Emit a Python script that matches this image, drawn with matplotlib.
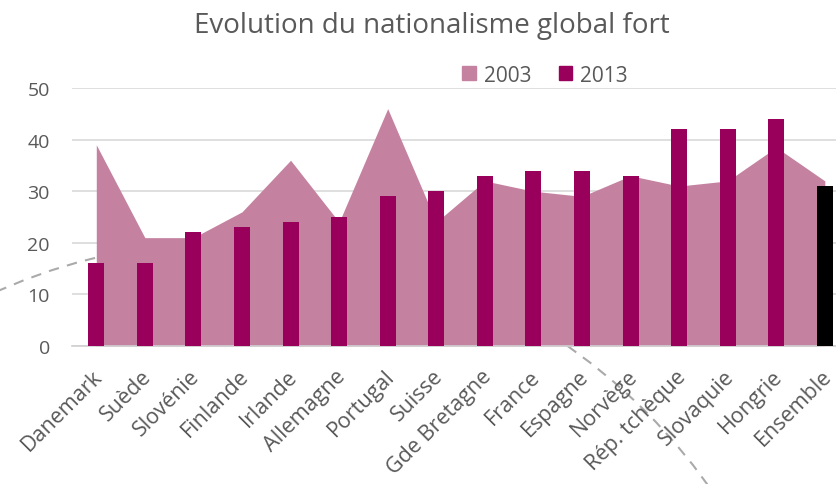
import matplotlib.pyplot as plt
import matplotlib.transforms as mtransforms
import numpy as np
from matplotlib.patches import Circle, Patch

# données
pays = ["Danemark", "Suède", "Slovénie", "Finlande", "Irlande", "Allemagne",
        "Portugal", "Suisse", "Gde Bretagne", "France", "Espagne", "Norvège",
        "Rép. tchèque", "Slovaquie", "Hongrie", "Ensemble"]
val_2003 = [39, 21, 21, 26, 36, 24, 46, 24, 32, 30, 29, 33, 31, 32, 38.5, 32]
val_2013 = [16, 16, 22, 23, 24, 25, 29, 30, 33, 34, 34, 33, 42, 42, 44, 31]
y_ticks = [0, 10, 20, 30, 40, 50]

c_2003 = '#C482A0'
c_2013 = '#99005C'
gris = '#595959'

plt.rcParams['font.family'] = ['Open Sans', 'DejaVu Sans']

fig = plt.figure(figsize=(8.36, 4.85), dpi=100)

# cercle décoratif en pointillés derrière le graphique
cercle = Circle((2.34, 4.85 - 8.24), 5.82, transform=fig.dpi_scale_trans,
                fill=False, edgecolor='#AAAAAA', linestyle=(0, (5, 4)),
                linewidth=1.5, zorder=0)
fig.patches.append(cercle)

ax = fig.add_axes([72 / 836, 1 - 347 / 485, 1 - 72 / 836, (347 - 89) / 485])
ax.set_facecolor('none')
ax.set_zorder(1)

x = np.arange(len(pays))
ax.fill_between(x, val_2003, color=c_2003, linewidth=0, zorder=2)
couleurs = [c_2013] * (len(pays) - 1) + ['black']
ax.bar(x, val_2013, width=0.33, color=couleurs, zorder=3)

ax.set_xlim(-0.5, 15.23)
ax.set_ylim(0, 50)
ax.set_yticks(y_ticks)
ax.grid(axis='y', color='#D9D9D9', linewidth=1.2, zorder=1)
ax.set_axisbelow(True)
for s in ['top', 'right', 'left']:
    ax.spines[s].set_visible(False)
ax.spines['bottom'].set_color('#D0D0D0')
ax.spines['bottom'].set_linewidth(1.2)
ax.tick_params(axis='both', length=0, colors=gris)
ax.tick_params(axis='y', pad=16, labelsize=14)
ax.tick_params(axis='x', pad=14)
ax.set_xticks(x)
ax.set_xticklabels(pays, rotation=45, ha='right', rotation_mode='anchor',
                   fontsize=15.5, color=gris)

# léger décalage des étiquettes vers la gauche
decal = mtransforms.ScaledTranslation(-0.04, 0, fig.dpi_scale_trans)
for lab in ax.get_xticklabels():
    lab.set_transform(lab.get_transform() + decal)

fig.text(0.517, 0.946, "Evolution du nationalisme global fort",
         ha='center', va='center', fontsize=20, color=gris)

handles = [Patch(color=c_2003, label='2003'), Patch(color=c_2013, label='2013')]
fig.legend(handles=handles, loc='center', bbox_to_anchor=(0.652, 0.843), ncol=2,
           frameon=False, fontsize=15, labelcolor=gris, handlelength=0.65,
           handleheight=0.65, handletextpad=0.4, columnspacing=1.3)

fig.savefig('out.png', dpi=100)
